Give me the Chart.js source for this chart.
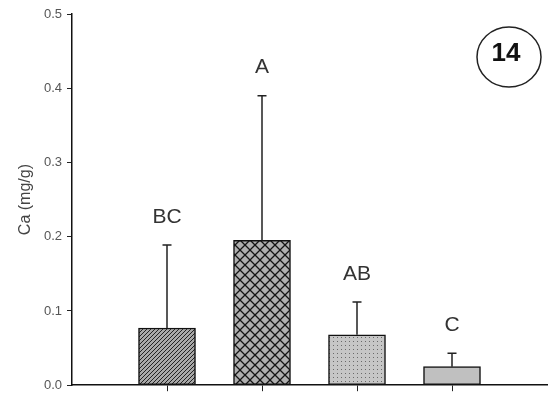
<!DOCTYPE html>
<html>
<head>
<meta charset="utf-8">
<script src="https://cdn.jsdelivr.net/npm/chart.js@4/dist/chart.umd.min.js"></script>
<style>
  body { margin: 0; background: #fff; }
  canvas { display: block; }
</style>
</head>
<body>
<canvas id="chart" width="552" height="398"></canvas>
<script>
// slots 0 and 5 are empty edges of the x axis
const groups = ['', 'G1', 'G2', 'G3', 'G4', ''];
const means = [null, 0.077, 0.195, 0.068, 0.025, null];
const sd = [null, 0.112, 0.195, 0.044, 0.018, null];
const letters = [null, 'BC', 'A', 'AB', 'C', null];
const yTicks = [0.0, 0.1, 0.2, 0.3, 0.4, 0.5];
const panel = '14';

const ctx = document.querySelector('#chart').getContext('2d');
const font = '"Liberation Sans", Arial, sans-serif';

function makePattern(kind) {
    const c = document.createElement('canvas');
    const size = kind === 'cross' ? 10 : 4;
    c.width = size;
    c.height = size;
    const p = c.getContext('2d');
    if (kind === 'hatch') {
        p.fillStyle = '#a8a8a8';
        p.fillRect(0, 0, size, size);
        p.strokeStyle = '#222';
        p.lineWidth = 1;
        p.beginPath();
        p.moveTo(0, size); p.lineTo(size, 0);
        p.moveTo(-1, 1); p.lineTo(1, -1);
        p.moveTo(size - 1, size + 1); p.lineTo(size + 1, size - 1);
        p.stroke();
    } else if (kind === 'cross') {
        p.fillStyle = '#b0b0b0';
        p.fillRect(0, 0, size, size);
        p.strokeStyle = '#151515';
        p.lineWidth = 1.3;
        p.beginPath();
        p.moveTo(0, 0); p.lineTo(size, size);
        p.moveTo(0, size); p.lineTo(size, 0);
        p.stroke();
    } else if (kind === 'dots') {
        p.fillStyle = '#c6c6c6';
        p.fillRect(0, 0, size, size);
        p.fillStyle = '#6a6a6a';
        p.fillRect(1, 1, 1, 1);
    } else {
        p.fillStyle = '#c0c0c0';
        p.fillRect(0, 0, size, size);
    }
    return ctx.createPattern(c, 'repeat');
}

const fills = [null, makePattern('hatch'), makePattern('cross'), makePattern('dots'), makePattern('plain'), null];

const errorBars = {
    id: 'errorBars',
    afterDatasetsDraw(chart) {
        const c = chart.ctx;
        const meta = chart.getDatasetMeta(0);
        const y = chart.scales.y;
        c.save();
        c.strokeStyle = '#222';
        c.lineWidth = 1.5;
        meta.data.forEach((bar, i) => {
            if (means[i] == null) return;
            const top = y.getPixelForValue(means[i] + sd[i]);
            c.beginPath();
            c.moveTo(bar.x, bar.y);
            c.lineTo(bar.x, top);
            c.moveTo(bar.x - 4.5, top);
            c.lineTo(bar.x + 4.5, top);
            c.stroke();
            c.fillStyle = '#333';
            c.font = '21px ' + font;
            c.textAlign = 'center';
            c.textBaseline = 'middle';
            c.fillText(letters[i], bar.x, top - 28);
        });
        c.restore();
    }
};

const panelMark = {
    id: 'panelMark',
    afterDraw(chart) {
        const c = chart.ctx;
        const area = chart.chartArea;
        const cx = area.right - 38;
        const cy = area.top + 43;
        c.save();
        c.strokeStyle = '#222';
        c.lineWidth = 1.5;
        c.beginPath();
        c.ellipse(cx, cy, 32, 30, 0, 0, Math.PI * 2);
        c.stroke();
        c.fillStyle = '#111';
        c.font = 'bold 26px ' + font;
        c.textAlign = 'center';
        c.textBaseline = 'middle';
        c.fillText(panel, cx - 3, cy - 3);
        c.restore();
    }
};

new Chart(ctx, {
    type: 'bar',
    data: {
        labels: groups,
        datasets: [{
            data: means,
            backgroundColor: fills,
            borderColor: '#111',
            borderWidth: 1.5,
            borderSkipped: false,
            barThickness: 57
        }]
    },
    options: {
        responsive: false,
        animation: false,
        layout: { padding: { top: 14, right: 5 } },
        plugins: {
            legend: { display: false },
            tooltip: { enabled: false }
        },
        scales: {
            x: {
                offset: false,
                border: { display: true, color: '#111', width: 1.5 },
                grid: {
                    offset: false,
                    drawOnChartArea: false,
                    drawTicks: true,
                    tickLength: 6,
                    tickColor: (c) => (c.index === 0 || c.index === groups.length - 1) ? 'rgba(0,0,0,0)' : '#222'
                },
                ticks: { display: false },
                afterFit: (s) => { s.height = 10; }
            },
            y: {
                min: 0,
                max: 0.5,
                border: { display: true, color: '#111', width: 1.5 },
                grid: { drawOnChartArea: false, tickLength: 5, tickColor: '#222' },
                afterBuildTicks: (s) => { s.ticks = yTicks.map(v => ({ value: v })); },
                ticks: {
                    padding: 5,
                    color: '#555',
                    font: { family: font, size: 13 },
                    callback: (v) => Number(v).toFixed(1)
                },
                title: {
                    display: true,
                    text: 'Ca (mg/g)',
                    color: '#444',
                    font: { family: font, size: 16 },
                    padding: { top: 16, bottom: 0 }
                },
                afterFit: (s) => { s.width = 72; }
            }
        }
    },
    plugins: [errorBars, panelMark]
});
</script>
</body>
</html>
